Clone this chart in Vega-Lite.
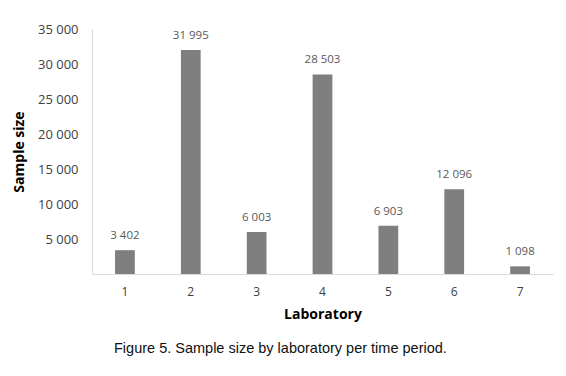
{
  "$schema": "https://vega.github.io/schema/vega-lite/v6.json",
  "width": 461,
  "height": 245,
  "autosize": {"type": "none"},
  "padding": {"left": 92, "top": 29, "right": 13, "bottom": 102},
  "background": "white",
  "config": {
    "locale": {"number": {"decimal": ".", "thousands": " ", "grouping": [3], "currency": ["", ""]}},
    "view": {"stroke": null},
    "font": "Open Sans"
  },
  "title": {
    "text": "Figure 5.  Sample size by laboratory per time period.",
    "orient": "bottom",
    "anchor": "start",
    "frame": "group",
    "dx": 22,
    "offset": 21,
    "font": "Liberation Sans",
    "fontSize": 14.5,
    "fontWeight": "normal",
    "color": "#111111"
  },
  "data": {
    "values": [
      {"lab": "1", "n": 3402},
      {"lab": "2", "n": 31995},
      {"lab": "3", "n": 6003},
      {"lab": "4", "n": 28503},
      {"lab": "5", "n": 6903},
      {"lab": "6", "n": 12096},
      {"lab": "7", "n": 1098}
    ]
  },
  "encoding": {
    "x": {
      "field": "lab",
      "type": "ordinal",
      "scale": {"paddingInner": 0.7, "paddingOuter": 0.35},
      "axis": {
        "title": "Laboratory",
        "titleFont": "Open Sans",
        "titleFontSize": 14,
        "titleFontWeight": "bold",
        "titleColor": "#000000",
        "titlePadding": 10,
        "labelAngle": 0,
        "labelFontSize": 12,
        "labelColor": "#404040",
        "labelPadding": 12,
        "ticks": false,
        "domainColor": "#d9d9d9",
        "domainWidth": 1
      }
    },
    "y": {
      "field": "n",
      "type": "quantitative",
      "scale": {"domain": [0, 35000], "nice": false},
      "axis": {
        "title": "Sample size",
        "titleFont": "Open Sans",
        "titleFontSize": 14,
        "titleFontWeight": "bold",
        "titleColor": "#000000",
        "titlePadding": 11,
        "values": [5000, 10000, 15000, 20000, 25000, 30000, 35000],
        "format": ",d",
        "labelFontSize": 13,
        "labelColor": "#404040",
        "labelPadding": 14,
        "ticks": false,
        "grid": false,
        "domainColor": "#d9d9d9",
        "domainWidth": 1
      }
    }
  },
  "layer": [
    {"mark": {"type": "bar", "color": "#7f7f7f"}},
    {
      "mark": {"type": "text", "dy": -14, "fontSize": 11.5, "color": "#595959", "font": "Open Sans"},
      "encoding": {"text": {"field": "n", "type": "quantitative", "format": ",d"}}
    }
  ]
}
